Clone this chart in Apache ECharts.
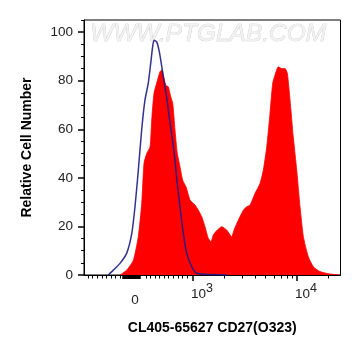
<!DOCTYPE html>
<html>
<head>
<meta charset="utf-8">
<script src="https://cdn.jsdelivr.net/npm/echarts@6/dist/echarts.min.js"></script>
<style>html,body{margin:0;padding:0;background:#fff;}#c{width:361px;height:356px;}</style>
</head>
<body>
<div id="c"></div>
<script>
// x values are in display "decade" units: 3 = 10^3, 4 = 10^4, 2.442 = 0
const controlX = [2.186,2.234,2.298,2.362,2.411,2.442,2.474,2.507,2.538,2.570,2.593,2.612,2.625,2.651,2.676,2.699,2.721,2.747,2.772,2.795,2.820,2.843,2.875,2.907,2.939,2.988,3.036,3.195,3.324];
const controlY = [0,2,4.8,8.9,17,28,43,60,72,79,87,94,96.7,96,92,86,80,73,65,58,50,40,28,17,9,3.4,0.7,0.2,0];
const sampleX = [2.298,2.362,2.426,2.474,2.507,2.529,2.555,2.587,2.603,2.625,2.657,2.683,2.699,2.721,2.740,2.762,2.786,2.805,2.827,2.849,2.875,2.901,2.933,2.971,3.019,3.051,3.084,3.115,3.147,3.173,3.195,3.234,3.276,3.324,3.372,3.394,3.436,3.484,3.516,3.548,3.596,3.644,3.676,3.709,3.740,3.766,3.788,3.820,3.853,3.885,3.907,3.933,3.964,3.997,4.029,4.061,4.109,4.157,4.221,4.317,4.413];
const sampleY = [0,2,6,15.8,29.5,46,50,52.8,63.8,74.8,80,83.7,84.4,81,78,77.5,73.4,70.7,59.7,50,44.6,39,36.3,30.9,28.8,26.7,24,19.9,15.1,13.7,16.5,18.5,19.9,18.5,15.8,18.5,22.6,26.7,28.1,28.8,33.6,37.7,43.2,52.8,66.5,78.9,82.3,85.7,85,85,83,72,56.9,43.2,28.1,15.8,7.5,3.4,1.4,0.4,0];

const xMajorTicks = [3, 4];
const xLabelPos = [2.442, 3.087, 4.087];
const xLabelText = ['{a|0}', '{a|10}{b|3}', '{a|10}{b|4}'];
const xLinearMinor = [1.990,2.034,2.077,2.125,2.163,2.212,2.255,2.298,2.548,2.587,2.635,2.673,2.721,2.760,2.808,2.856,2.894,2.942];
const xZeroCluster = [2.327,2.337,2.346,2.356,2.365,2.375,2.385,2.394,2.404,2.413,2.423,2.433,2.442,2.452,2.462,2.471,2.481,2.490];
const xLogMinorValues = [2000,3000,4000,5000,6000,7000,8000,9000,20000];
const yMajor = [0,20,40,60,80,100];
const yMinor = [5,10,15,25,30,35,45,50,55,65,70,75,85,90,95,105];

const X_MIN = 1.952, X_MAX = 4.418;
const xMinorTicks = xLinearMinor.concat(xLogMinorValues.map(v => Math.log10(v)));

const chart = echarts.init(document.getElementById('c'), null, {renderer: 'canvas'});
const font = 'Liberation Sans, Arial, sans-serif';
const zip = (xs, ys) => xs.map((x, i) => [x, ys[i]]);

chart.setOption({
  animation: false,
  backgroundColor: '#fff',
  grid: {left: 84, right: 20.5, top: 20, bottom: 81, show: true, borderColor: '#000', borderWidth: 1, backgroundColor: 'transparent'},
  xAxis: [
    {
      type: 'value', min: X_MIN, max: X_MAX, position: 'bottom',
      axisLine: {show: true, lineStyle: {color: '#000', width: 1}},
      splitLine: {show: false},
      axisTick: {show: true, customValues: xMajorTicks, length: 6, lineStyle: {color: '#000', width: 1.5}},
      axisLabel: {
        show: true, customValues: xLabelPos, margin: 32, verticalAlign: 'bottom',
        formatter: function (v) {
          const i = xLabelPos.indexOf(v);
          return i >= 0 ? xLabelText[i] : '';
        },
        rich: {
          a: {fontSize: 13.5, fontFamily: font, color: '#222'},
          b: {fontSize: 12.5, fontFamily: font, color: '#222', padding: [0, 0, 12, 0]}
        }
      },
      name: 'CL405-65627 CD27(O323)', nameLocation: 'middle', nameGap: 46,
      nameTextStyle: {fontSize: 14, fontWeight: 'bold', fontFamily: font, color: '#000'}
    },
    {
      type: 'value', min: X_MIN, max: X_MAX, position: 'bottom',
      axisLine: {show: false}, splitLine: {show: false}, axisLabel: {show: false},
      axisTick: {show: true, customValues: xMinorTicks, length: 3.5, lineStyle: {color: '#000', width: 1}}
    },
    {
      type: 'value', min: X_MIN, max: X_MAX, position: 'bottom',
      axisLine: {show: false}, splitLine: {show: false}, axisLabel: {show: false},
      axisTick: {show: true, customValues: xZeroCluster, length: 4, lineStyle: {color: '#000', width: 1.5}}
    }
  ],
  yAxis: [
    {
      type: 'value', min: 0, max: 105, position: 'left',
      axisLine: {show: true, lineStyle: {color: '#000', width: 1}},
      splitLine: {show: false},
      axisTick: {show: true, customValues: yMajor, length: 6, lineStyle: {color: '#000', width: 1.5}},
      axisLabel: {show: true, customValues: yMajor, margin: 11, fontSize: 13.5, fontFamily: font, color: '#222'},
      name: 'Relative Cell Number', nameLocation: 'middle', nameGap: 50, nameRotate: 90,
      nameTextStyle: {fontSize: 14, fontWeight: 'bold', fontFamily: font, color: '#000'}
    },
    {
      type: 'value', min: 0, max: 105, position: 'left',
      axisLine: {show: false}, splitLine: {show: false}, axisLabel: {show: false},
      axisTick: {show: true, customValues: yMinor, length: 3, lineStyle: {color: '#000', width: 1}}
    }
  ],
  graphic: [
    {
      type: 'text', left: 90, top: 21, z: 0, silent: true,
      style: {text: 'WWW.PTGLAB.COM', font: 'italic 24.5px ' + font, fill: '#f2f2f2', stroke: '#c4c4c4', lineWidth: 0.6}
    }
  ],
  series: [
    {
      type: 'line', xAxisIndex: 0, yAxisIndex: 0, data: zip(sampleX, sampleY),
      symbol: 'none', smooth: 0.2, z: 2,
      lineStyle: {color: '#ff0000', width: 0.8},
      areaStyle: {color: '#ff0000', opacity: 1}
    },
    {
      type: 'line', xAxisIndex: 0, yAxisIndex: 0, data: zip(controlX, controlY),
      symbol: 'none', smooth: 0.2, z: 3,
      lineStyle: {color: '#1c1c86', width: 1.5, opacity: 0.9}
    }
  ]
});
</script>
</body>
</html>
